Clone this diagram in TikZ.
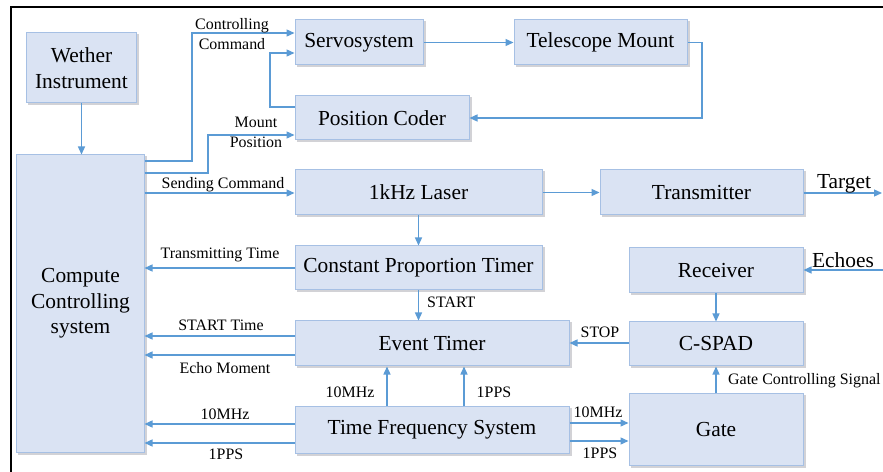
\documentclass[tikz,border=0pt]{standalone}
\usepackage{fontspec}
\setmainfont{Liberation Serif}
\usetikzlibrary{arrows.meta,backgrounds}
\definecolor{boxfill}{RGB}{218,227,243}
\definecolor{boxline}{RGB}{166,192,228}
\definecolor{wirec}{RGB}{91,155,213}
\definecolor{shadowc}{RGB}{210,210,214}
\begin{document}
\begin{tikzpicture}[x=1bp,y=-1bp,
 box/.style={draw=boxline, fill=boxfill, line width=1bp, inner sep=0pt, align=center,
   font=\fontsize{21.5pt}{25.5pt}\selectfont},
 arr/.style={draw=wirec, line width=1.3bp, -{Triangle[length=8bp,width=7bp]}},
 lab/.style={font=\fontsize{16pt}{20pt}\selectfont, inner sep=0pt, align=center},
 biglab/.style={font=\fontsize{21.5pt}{25pt}\selectfont, inner sep=0pt}]
\useasboundingbox (0,0) rectangle (883,472);

% boxes
\node[box, minimum width=109bp, minimum height=70bp] (wi) at (81.5,68) {Wether\\Instrument};
\node[box, minimum width=127bp, minimum height=297bp] (cc) at (80.5,303.5) {Compute\\Controlling\\system};
\node[box, minimum width=128bp, minimum height=45bp] (servo) at (359,42.5) {Servosystem};
\node[box, minimum width=173bp, minimum height=45bp] (tm) at (600.5,42.5) {Telescope Mount};
\node[box, minimum width=174bp, minimum height=44bp] (pc) at (382,118) {Position Coder};
\node[box, minimum width=247bp, minimum height=45bp] (laser) at (418.5,192.5) {1kHz Laser};
\node[box, minimum width=247bp, minimum height=44bp] (cpt) at (418.5,268) {Constant Proportion Timer};
\node[box, minimum width=203bp, minimum height=45bp] (tx) at (701.5,192.5) {Transmitter};
\node[box, minimum width=174bp, minimum height=45bp] (rx) at (716,270.5) {Receiver};
\node[box, minimum width=174bp, minimum height=44bp] (spad) at (716,344) {C-SPAD};
\node[box, minimum width=274bp, minimum height=45bp] (et) at (432,343.5) {Event Timer};
\node[box, minimum width=274bp, minimum height=46bp] (tfs) at (432,430) {Time Frequency System};
\node[box, minimum width=174bp, minimum height=71bp] (gate) at (716,429.5) {Gate};

\begin{scope}[on background layer]
\fill[white] (0,0) rectangle (883,472);
\foreach \n in {wi,cc,servo,tm,pc,laser,cpt,tx,rx,spad,et,tfs,gate}
  \fill[shadowc] ([shift={(2,2)}]\n.north west) rectangle ([shift={(2,2)}]\n.south east);
\end{scope}
\draw[line width=1.6bp] (11,472) -- (11,7) -- (883,7);

\coordinate (tgt) at (882,193);
\coordinate (echo) at (883,270);

% connectors
\draw[arr] (wi.south) -- (wi.south |- cc.north);
\draw[arr] (cc.east |- 0,161) -| (192,33) -- (servo.west |- 0,33);
\node[lab] (lcc) at (232,34) {Controlling\\Command};
\draw[arr] (pc.west |- 0,107) -| (270,53) -- (servo.west |- 0,53);
\draw[arr] (cc.east |- 0,173) -| (208,135) -- (pc.west |- 0,135);
\node[lab] (lmp) at (256,132) {Mount\\Position};
\draw[arr] (cc.east |- 0,193) -- (laser.west |- 0,193);
\node[lab] (lsc) at (223,185) {Sending Command};
\draw[arr] (servo.east) -- (tm.west);
\draw[arr] (tm.east) -| (702,118) -- (pc.east);
\draw[arr] (laser.east) -- (tx.west);
\draw[arr] (tx.east |- tgt) -- (tgt);
\node[biglab] (ltg) at (844,184) {Target};
\draw[arr] (echo) -- (rx.east |- echo);
\node[biglab] (lec) at (843,260) {Echoes};
\draw[arr] (laser.south) -- (cpt.north);
\draw[arr] (cpt.west) -- (cc.east |- cpt.west);
\node[lab] (ltt) at (220,255) {Transmitting Time};
\draw[arr] (cpt.south) -- (cpt.south |- et.north);
\node[lab, anchor=west] (lst) at (427,302) {START};
\draw[arr] (et.west |- 0,336) -- (cc.east |- 0,336);
\node[lab] (lstt) at (221,325) {START Time};
\draw[arr] (et.west |- 0,355) -- (cc.east |- 0,355);
\node[lab] (lem) at (225,368) {Echo Moment};
\draw[arr] (spad.west |- 0,343) -- (et.east |- 0,343);
\node[lab] (lsp) at (600,332) {STOP};
\draw[arr] (rx.south) -- (spad.north);
\draw[arr] (gate.north) -- (spad.south);
\node[lab, anchor=west] (lgc) at (728,381) {Gate Controlling Signal};
\draw[arr] (tfs.north -| 387,0) -- (et.south -| 387,0);
\node[lab] (l10a) at (350,392) {10MHz};
\draw[arr] (tfs.north -| 464,0) -- (et.south -| 464,0);
\node[lab] (l1a) at (494,392) {1PPS};
\draw[arr] (tfs.west |- 0,424) -- (cc.east |- 0,424);
\node[lab] (l10b) at (225,414) {10MHz};
\draw[arr] (tfs.west |- 0,443) -- (cc.east |- 0,443);
\node[lab] (l1b) at (226,454) {1PPS};
\draw[arr] (tfs.east |- 0,423) -- (gate.west |- 0,423);
\node[lab] (l10c) at (598,412) {10MHz};
\draw[arr] (tfs.east |- 0,441) -- (gate.west |- 0,441);
\node[lab] (l1c) at (600,453) {1PPS};
\end{tikzpicture}
\end{document}
